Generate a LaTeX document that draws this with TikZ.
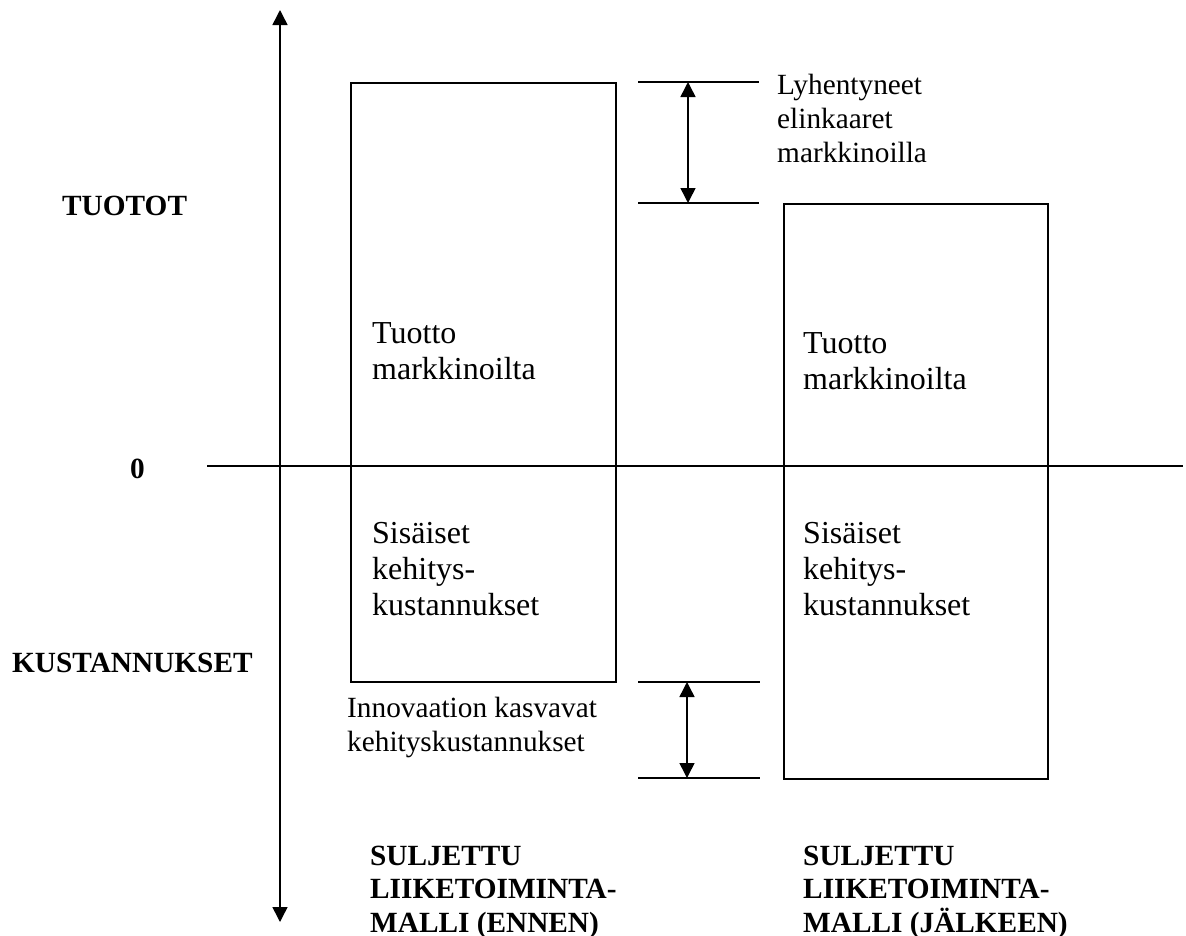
\documentclass[tikz,border=0pt]{standalone}
\usepackage{fontspec}
\setmainfont{Liberation Serif}
\usetikzlibrary{arrows.meta}
\begin{document}
\begin{tikzpicture}[x=1pt,y=-1pt,
  line/.style={line width=1.5pt},
  dbl/.style={line width=1.5pt,{Triangle[length=15pt,width=15pt]}-{Triangle[length=15pt,width=15pt]}},
  bar/.style={draw,line width=1.5pt,inner sep=0pt,anchor=north west},
  bigtxt/.style={anchor=base west,inner sep=0pt,align=left,font=\fontsize{32}{36}\selectfont},
  smalltxt/.style={anchor=base west,inner sep=0pt,align=left,font=\fontsize{29.3}{34}\selectfont},
  boldtxt/.style={anchor=base west,inner sep=0pt,align=left,font=\fontsize{29.3}{33.5}\selectfont\bfseries},
]
\path[use as bounding box] (0,0) rectangle (1186,935);

% axes
\coordinate (ytop) at (280,10);
\coordinate (ybot) at (280,922);
\draw[dbl] (ybot) -- (ytop);
\coordinate (xl) at (207,466);
\coordinate (xr) at (1183,466);
\draw[line] (xl) -- (xr);

% bars
\node[bar,minimum width=265pt,minimum height=599pt] (boxA) at (350,82) {};
\node[bar,minimum width=264pt,minimum height=575pt] (boxB) at (783,203) {};

% top annotation
\coordinate (a1l) at (638,82);  \coordinate (a1r) at (759,82);
\coordinate (a2l) at (638,203); \coordinate (a2r) at (759,203);
\coordinate (t1) at (688,82);   \coordinate (t2) at (688,203);
\draw[line] (a1l) -- (a1r);
\draw[line] (a2l) -- (a2r);
\draw[dbl] (t1) -- (t2);

% bottom annotation
\coordinate (b1l) at (638,682); \coordinate (b1r) at (760,682);
\coordinate (b2l) at (638,778); \coordinate (b2r) at (760,778);
\coordinate (u1) at (687,682);  \coordinate (u2) at (687,778);
\draw[line] (b1l) -- (b1r);
\draw[line] (b2l) -- (b2r);
\draw[dbl] (u1) -- (u2);

% axis labels (anchored at baseline)
\node[boldtxt] (tuotot) at (62,215) {TUOTOT};
\node[boldtxt] (zero) at (130,478) {0};
\node[boldtxt] (kust) at (12,672) {KUSTANNUKSET};

% texts (anchored at baseline of last line)
\node[bigtxt] (tA) at (372,379) {Tuotto\\markkinoilta};
\node[bigtxt] (tB) at (803,389) {Tuotto\\markkinoilta};
\node[bigtxt] (sA) at (372,615) {Sisäiset\\kehitys-\\kustannukset};
\node[bigtxt] (sB) at (803,615) {Sisäiset\\kehitys-\\kustannukset};
\node[smalltxt] (lyh) at (777,162) {Lyhentyneet\\elinkaaret\\markkinoilla};
\node[smalltxt] (inn) at (347,751) {Innovaation kasvavat\\kehityskustannukset};
\node[boldtxt] (mA) at (370,932) {SULJETTU\\LIIKETOIMINTA-\\MALLI (ENNEN)};
\node[boldtxt] (mB) at (803,932) {SULJETTU\\LIIKETOIMINTA-\\MALLI (JÄLKEEN)};
\end{tikzpicture}
\end{document}
